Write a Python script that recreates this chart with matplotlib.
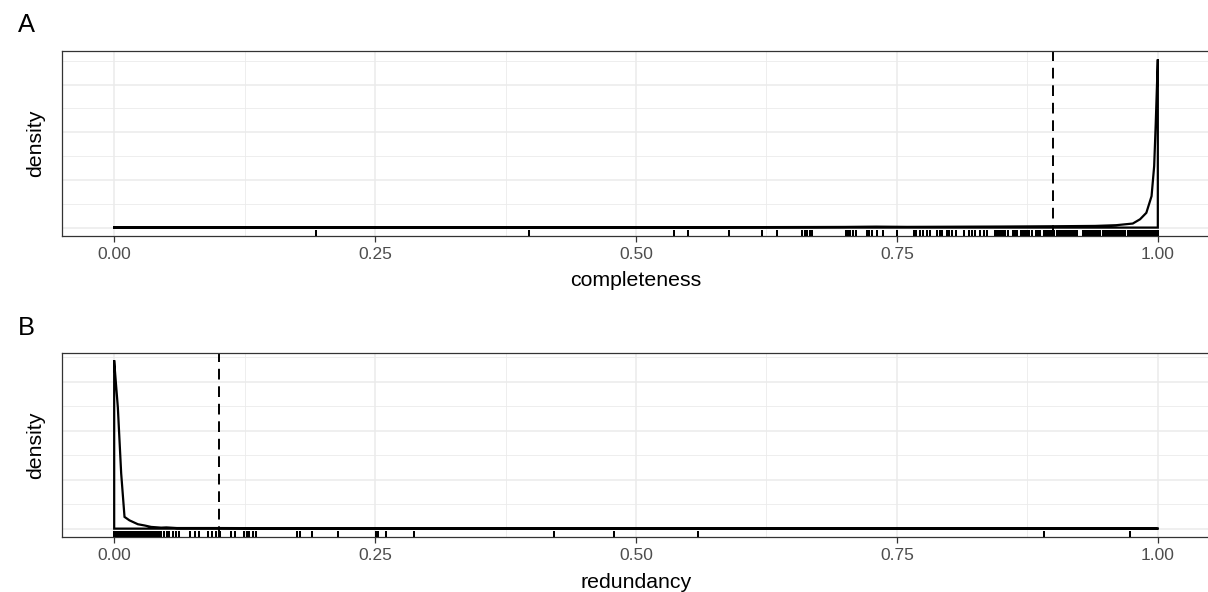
import matplotlib
matplotlib.use("Agg")
import matplotlib.pyplot as plt
from matplotlib.ticker import FixedLocator

plt.rcParams['font.family'] = ['Liberation Sans', 'DejaVu Sans']

# ---------------- data ----------------
x_ticks = [0.0, 0.25, 0.5, 0.75, 1.0]
x_tick_labels = ["0.00", "0.25", "0.50", "0.75", "1.00"]

# Panel A: completeness
completeness_density_x = [0.0, 0.1, 0.19, 0.3, 0.4, 0.5, 0.55, 0.62, 0.67, 0.7, 0.73,
                          0.76, 0.8, 0.85, 0.9, 0.94, 0.96, 0.976, 0.983, 0.989,
                          0.994, 0.9965, 0.998, 1.0]
completeness_density_y = [0.04, 0.04, 0.06, 0.04, 0.06, 0.05, 0.08, 0.1, 0.12, 0.14, 0.2,
                          0.15, 0.18, 0.22, 0.28, 0.35, 0.5, 0.85, 1.75, 3.1,
                          6.6, 12.9, 21.8, 35.3]
completeness_values = [
    0.193, 0.397, 0.536, 0.550, 0.589, 0.621, 0.635, 0.659, 0.662, 0.664, 0.667, 0.669,
    0.701, 0.703, 0.705, 0.708, 0.711, 0.721, 0.723, 0.726, 0.731, 0.737, 0.750, 0.766,
    0.768, 0.772, 0.775, 0.779, 0.782, 0.788, 0.791, 0.793, 0.798, 0.800, 0.803, 0.807,
    0.814, 0.819, 0.822, 0.825, 0.830, 0.833, 0.836,
    0.844, 0.846, 0.848, 0.850, 0.852, 0.854, 0.856, 0.861, 0.863, 0.865, 0.869, 0.871,
    0.873, 0.875, 0.877, 0.879, 0.883, 0.885, 0.887, 0.891, 0.893, 0.895, 0.897, 0.899,
    0.901, 0.903, 0.905, 0.907, 0.909, 0.911, 0.913, 0.915, 0.917, 0.919, 0.921, 0.923,
    0.928, 0.929, 0.931, 0.932, 0.933, 0.935, 0.936, 0.937, 0.939, 0.940, 0.941, 0.943,
    0.944, 0.945, 0.947, 0.948, 0.949, 0.951, 0.952, 0.953, 0.955, 0.956, 0.957, 0.959,
    0.960, 0.961, 0.963, 0.964, 0.965, 0.967, 0.968, 0.969, 0.971, 0.972, 0.973, 0.975,
    0.976, 0.977, 0.979, 0.980, 0.981, 0.983, 0.984, 0.985, 0.987, 0.988, 0.989, 0.991,
    0.992, 0.993, 0.995, 0.996, 0.997, 0.999, 1.000,
]
completeness_cutoff = 0.9

# Panel B: redundancy
redundancy_density_x = [0.0, 0.0035, 0.0067, 0.0099, 0.0146, 0.0227, 0.029, 0.0354,
                        0.045, 0.05, 0.06, 0.1, 0.13, 0.2, 0.3, 0.5, 0.7, 0.9, 1.0]
redundancy_density_y = [34.2, 24.8, 11.3, 2.4, 1.7, 0.9, 0.65, 0.35,
                        0.2, 0.25, 0.12, 0.12, 0.1, 0.06, 0.05, 0.04, 0.03, 0.03, 0.03]
redundancy_values = [
    0.000, 0.001, 0.002, 0.003, 0.004, 0.005, 0.006, 0.007, 0.008, 0.009, 0.010, 0.011,
    0.012, 0.013, 0.014, 0.016, 0.017, 0.018, 0.019, 0.021, 0.022, 0.024, 0.025, 0.027,
    0.028, 0.030, 0.031, 0.033, 0.035, 0.037, 0.039, 0.041, 0.043, 0.045,
    0.048, 0.051, 0.053, 0.056, 0.059, 0.0625, 0.073, 0.077, 0.081, 0.090, 0.0935,
    0.098, 0.101, 0.112, 0.116, 0.124, 0.127, 0.1295, 0.133, 0.136, 0.175, 0.178,
    0.1895, 0.214, 0.251, 0.253, 0.260, 0.287, 0.421, 0.479, 0.5595, 0.891, 0.973,
]
redundancy_cutoff = 0.1

# ---------------- figure ----------------
W, H = 1208, 592
fig = plt.figure(figsize=(W / 100, H / 100), dpi=100)


def px_axes(left, top, right, bottom):
    return fig.add_axes([left / W, 1 - bottom / H, (right - left) / W, (bottom - top) / H])


def panel(ax, dx, dy, rug, cutoff):
    ymax = max(dy)
    ax.set_xlim(-0.05, 1.05)
    ax.set_ylim(-0.05 * ymax, 1.05 * ymax)
    ax.set_facecolor("white")
    # grid
    ax.xaxis.set_major_locator(FixedLocator(x_ticks))
    ax.xaxis.set_minor_locator(FixedLocator([0.125, 0.375, 0.625, 0.875]))
    ax.yaxis.set_major_locator(FixedLocator([0, 10, 20, 30]))
    ax.yaxis.set_minor_locator(FixedLocator([5, 15, 25, 35]))
    ax.grid(which="major", color="#EBEBEB", linewidth=1.1, zorder=0)
    ax.grid(which="minor", color="#EBEBEB", linewidth=0.6, zorder=0)
    ax.set_axisbelow(True)
    ax.set_xticklabels(x_tick_labels)
    ax.tick_params(axis="x", which="major", length=4, width=0.9, color="#333333",
                   labelsize=12.5, labelcolor="#4D4D4D", pad=4)
    ax.tick_params(axis="x", which="minor", length=0)
    ax.tick_params(axis="y", which="both", length=0, labelleft=False)
    for s in ax.spines.values():
        s.set_color("#333333")
        s.set_linewidth(0.9)
    # density outline (closed polygon)
    xs = list(dx) + [dx[-1], dx[0], dx[0]]
    ys = list(dy) + [0, 0, dy[0]]
    ax.plot(xs, ys, color="black", linewidth=1.6, solid_joinstyle="miter", zorder=3)
    # rug
    ax.vlines(rug, 0, 0.035, transform=ax.get_xaxis_transform(), color="black",
              linewidth=1.45, zorder=4)
    # cutoff
    ax.axvline(cutoff, color="black", linewidth=1.4, linestyle=(0, (5.5, 3.5)), zorder=2)


axA = px_axes(62, 51, 1210, 236)
panel(axA, completeness_density_x, completeness_density_y, completeness_values,
      completeness_cutoff)
axB = px_axes(62, 353, 1210, 537)
panel(axB, redundancy_density_x, redundancy_density_y, redundancy_values,
      redundancy_cutoff)

# titles / labels
fig.text(636 / W, 1 - 281 / H, "completeness", ha="center", va="center", fontsize=15.3)
fig.text(636 / W, 1 - 582 / H, "redundancy", ha="center", va="center", fontsize=15.3)
fig.text(36 / W, 1 - 143.5 / H, "density", ha="center", va="center", rotation=90,
         fontsize=15.3)
fig.text(36 / W, 1 - 445 / H, "density", ha="center", va="center", rotation=90,
         fontsize=15.3)
fig.text(18 / W, 1 - 25 / H, "A", ha="left", va="center", fontsize=18.4)
fig.text(18 / W, 1 - 328 / H, "B", ha="left", va="center", fontsize=18.4)

fig.savefig("out.png", dpi=100, facecolor="white")
